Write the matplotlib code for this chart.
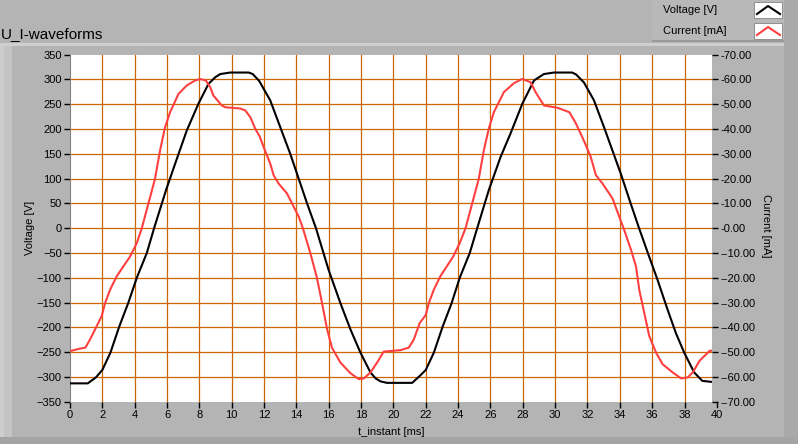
import matplotlib.pyplot as plt
from matplotlib.patches import Rectangle
from matplotlib.lines import Line2D
from matplotlib.transforms import blended_transform_factory

plt.rcParams['font.family'] = ['Liberation Sans', 'DejaVu Sans']

# voltage waveform (ms, V)
t_voltage = [0.0, 1.1, 1.6, 2.0, 2.5, 3.05, 3.6, 4.13, 4.75, 5.2, 5.94, 6.5,
             7.22, 7.94, 8.56, 9.0, 9.3, 9.9, 11.05, 11.3, 11.7, 12.38, 13.0,
             13.62, 14.14, 14.66, 15.21, 15.99, 16.72, 17.34, 17.96, 18.58,
             18.9, 19.2, 19.6, 21.16, 21.63, 22.0, 22.5, 23.05, 23.6, 24.1,
             24.72, 25.18, 25.9, 26.63, 27.24, 27.97, 28.69, 29.31, 29.93,
             31.06, 31.3, 31.78, 32.4, 33.02, 33.54, 34.06, 34.67, 35.19,
             35.81, 36.33, 36.95, 37.46, 37.98, 38.6, 39.1, 39.67]
voltage = [-313, -313, -301, -286, -251, -198, -151, -100, -50, 0, 77, 130,
           197, 251, 291, 305, 311, 314, 314, 311, 297, 258, 204,
           150, 100, 50, 0, -84, -151, -204, -251, -291,
           -303, -309, -312, -312, -298, -286, -251, -198, -151, -100,
           -50, 0, 77, 144, 191, 251, 298, 311, 314,
           314, 310, 294, 258, 204, 157, 110, 50, 0,
           -57, -104, -164, -211, -251, -291, -308, -310]

# current waveform (ms, mA)
t_current = [0.0, 0.6, 0.95, 1.24, 1.65, 1.96, 2.17, 2.48, 2.89, 3.3, 3.72,
             4.13, 4.44, 4.85, 5.26, 5.57, 5.88, 6.19, 6.71, 7.22, 7.74, 8.05,
             8.4, 8.67, 8.87, 9.39, 9.6, 10.53, 10.84, 11.15, 11.45, 11.73,
             11.97, 12.38, 12.59, 12.9, 13.42, 13.73, 14.14, 14.4, 14.86,
             15.27, 15.58, 15.9, 16.2, 16.72, 17.34, 17.86, 18.17, 18.58,
             18.99, 19.4, 20.43, 20.95, 21.26, 21.63, 22.0, 22.2, 22.5, 22.9,
             23.3, 23.7, 24.1, 24.46, 24.87, 25.28, 25.59, 25.9, 26.21, 26.83,
             27.45, 27.96, 28.48, 28.79, 29.31, 30.14, 30.88, 31.29, 31.8,
             32.2, 32.52, 32.93, 33.55, 33.96, 34.27, 34.69, 35.0, 35.2,
             35.51, 35.82, 36.24, 36.65, 37.27, 37.79, 38.2, 38.51, 38.93,
             39.55, 39.67]
current = [-49.6, -48.6, -48.2, -44.9, -39.5, -35.5, -30.2, -24.8, -19.4,
           -15.4, -11.4, -6.0, 0.0, 10.0, 20.0, 31.4, 40.8, 46.8, 54.2, 57.6,
           59.6, 60.2, 59.6, 56.9, 53.5, 49.5, 48.8, 48.3, 47.5, 44.8, 40.2,
           37.0, 32.8, 26.1, 21.4, 18.0, 14.0, 10.0, 4.7, 0.0, -10.0, -20.0,
           -30.0, -40.8, -48.2, -54.2, -58.5, -60.9, -60.6, -58.2, -54.2,
           -49.8, -49.2, -48.2, -44.9, -38.2, -35.0, -30.0, -24.8, -19.4,
           -15.4, -11.4, -6.0, 0.0, 10.0, 20.0, 31.4, 40.2, 46.8, 54.9, 58.5,
           60.2, 58.9, 54.9, 49.5, 48.6, 46.8, 42.2, 35.0, 28.8, 21.4, 18.0,
           12.0, 4.7, -0.7, -8.7, -15.4, -24.8, -34.1, -43.5, -50.2, -54.9,
           -58.2, -60.6, -60.2, -58.2, -53.5, -49.5, -49.4]

x_ticks = list(range(0, 40, 2))
v_ticks = list(range(-350, 351, 50))
i_ticks = list(range(-70, 71, 10))
i_tick_labels = ['-%.2f' % v for v in i_ticks]

W, H = 798, 444
BG = '#b4b4b4'
GRID = '#cc6600'
fs = 8


def box(x0, y0, w, h):
    # pixel box (top-left origin) -> figure fraction rect
    return (x0 / W, 1 - (y0 + h) / H, w / W, h / H)


fig = plt.figure(figsize=(W / 100, H / 100), dpi=100, facecolor=BG)

# frame decoration
for rect, col in [((0, 44, 12, 394), '#c4c4c4'), ((0, 44, 4, 394), '#cdcdcd'),
                  ((0, 43, 784, 3), '#cfcfcf'), ((784, 0, 14, 444), '#a9a9a9'),
                  ((0, 437, 798, 7), '#a4a4a4'), ((652, 0, 132, 41), '#b8b8b8'),
                  ((652, 40, 132, 2), '#9a9a9a')]:
    x, y, w, h = box(*rect)
    fig.patches.append(Rectangle((x, y), w, h, transform=fig.transFigure,
                                 facecolor=col, edgecolor='none', zorder=0))

ax = fig.add_axes([70 / W, 1 - 401.7 / H, (712 - 70) / W, (401.7 - 54.7) / H])
ax.set_facecolor('white')
ax.set_xlim(0, 39.7)
ax.set_ylim(-350, 350)
ax.set_xticks(x_ticks)
ax.set_yticks(v_ticks)
for v in v_ticks[1:-1]:
    ax.axhline(v, color=GRID, lw=0.9, zorder=1)
for x in x_ticks[1:]:
    ax.axvline(x, color=GRID, lw=0.9, zorder=1)
for s in ['top', 'right', 'bottom']:
    ax.spines[s].set_visible(False)
ax.spines['left'].set_color('#808080')
ax.tick_params(direction='out', length=4, width=1, labelsize=fs, pad=2)

ax.plot(t_voltage, voltage, color='black', lw=1.5, zorder=3)

# "40" tick sits just outside the plot area
trans = blended_transform_factory(ax.transData, ax.transAxes)
ax.plot([40, 40], [0, -5.6 / 347], transform=trans, color='black', lw=1,
        clip_on=False)
ax.annotate('40', xy=(40, 0), xycoords=trans, xytext=(0, -6),
            textcoords='offset points', ha='center', va='top', fontsize=fs)

ax2 = ax.twinx()
ax2.set_ylim(-70, 70)
ax2.set_yticks(i_ticks)
ax2.set_yticklabels(i_tick_labels)
for s in ax2.spines.values():
    s.set_visible(False)
ax2.tick_params(direction='out', length=4, width=1, labelsize=fs, pad=2)
ax2.plot(t_current, current, color='#ff4040', lw=1.5, zorder=3)

fig.text(30 / W, 1 - 228 / H, 'Voltage [V]', rotation=90, ha='center',
         va='center', fontsize=fs)
fig.text(766 / W, 1 - 226 / H, 'Current [mA]', rotation=270, ha='center',
         va='center', fontsize=fs)
fig.text(391 / W, 1 - 432 / H, 't_instant [ms]', ha='center', va='center',
         fontsize=fs)
fig.text(1 / W, 1 - 38 / H, 'U_I-waveforms', fontsize=11, va='baseline')

# legend panel
for i, (name, col) in enumerate([('Voltage [V]', 'black'),
                                 ('Current [mA]', '#ff4040')]):
    y0 = 2 + 21 * i
    fig.text(663 / W, 1 - (y0 + 8) / H, name, va='center', fontsize=fs)
    x, y, w, h = box(754, y0, 28, 16)
    fig.patches.append(Rectangle((x, y), w, h, transform=fig.transFigure,
                                 facecolor='white', edgecolor='#909090',
                                 lw=0.7))
    fig.add_artist(Line2D([757 / W, 768 / W, 780 / W],
                          [1 - (y0 + 12) / H, 1 - (y0 + 4) / H,
                           1 - (y0 + 12) / H],
                          color=col, lw=1.5))

fig.savefig('out.png', dpi=100, facecolor=BG)
